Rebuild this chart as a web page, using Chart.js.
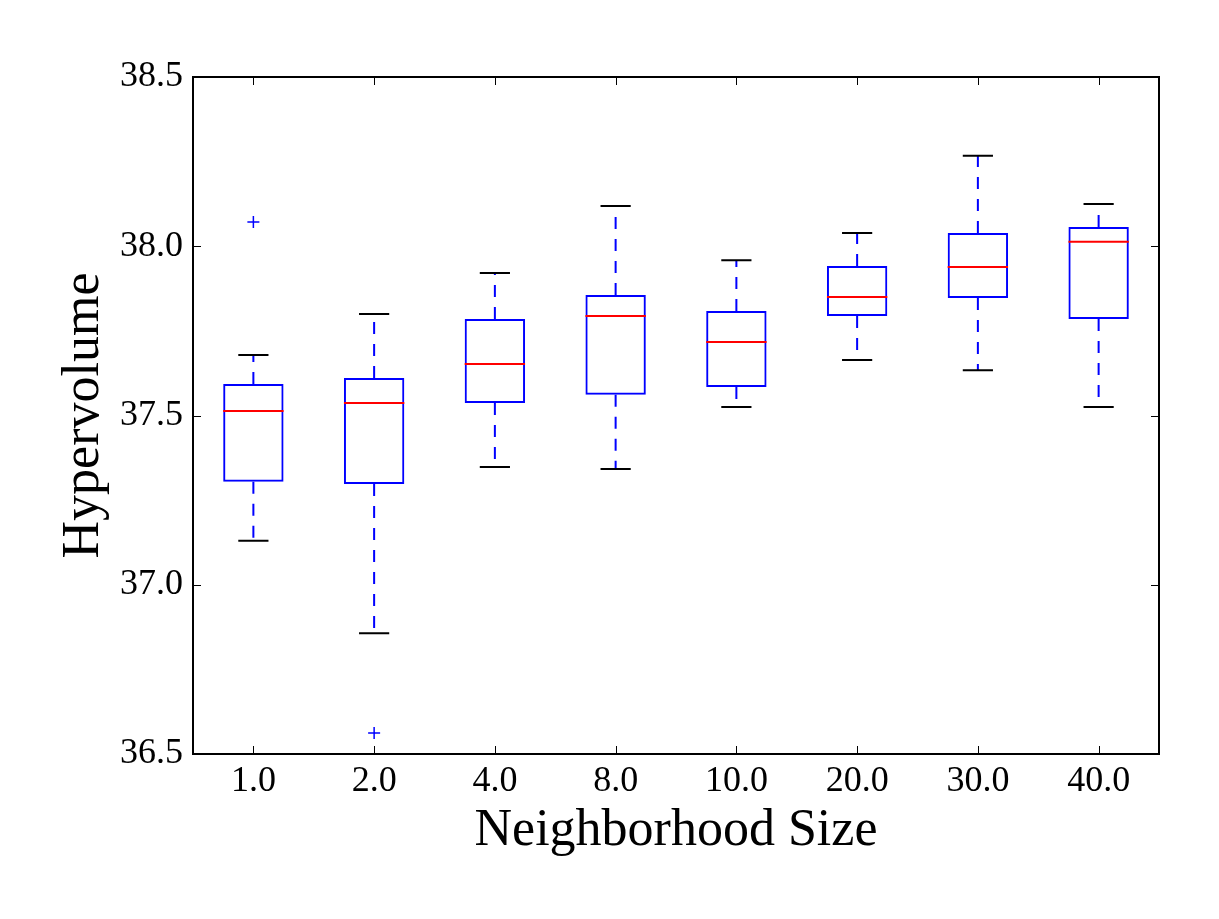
<!DOCTYPE html>
<html>
<head>
<meta charset="utf-8">
<script src="https://cdn.jsdelivr.net/npm/chart.js@4"></script>
<style>
  html, body { margin: 0; padding: 0; background: #fff; }
  #wrap { width: 1219px; height: 919px; }
</style>
</head>
<body>
<div id="wrap"><canvas id="chart"></canvas></div>
<script>
// box plot values
const categories = ['1.0', '2.0', '4.0', '8.0', '10.0', '20.0', '30.0', '40.0'];
const whiskerLow = [37.13, 36.857, 37.348, 37.342, 37.525, 37.664, 37.634, 37.525];
const q1 = [37.304, 37.298, 37.537, 37.561, 37.584, 37.794, 37.847, 37.785];
const median = [37.513, 37.537, 37.652, 37.794, 37.717, 37.85, 37.939, 38.013];
const q3 = [37.593, 37.611, 37.785, 37.856, 37.809, 37.942, 38.039, 38.057];
const whiskerHigh = [37.679, 37.8, 37.921, 38.119, 37.959, 38.039, 38.267, 38.125];
const outliers = [[38.072], [36.562], [], [], [], [], [], []];
const yTicks = [36.5, 37.0, 37.5, 38.0, 38.5];

const serif = "'Liberation Serif', 'DejaVu Serif', serif";

const outlierPoints = [];
outliers.forEach((vals, i) => {
  vals.forEach(v => outlierPoints.push({ x: categories[i], y: v }));
});

// whiskers, caps, medians, frame and inward ticks
const boxPlotExtras = {
  id: 'boxPlotExtras',
  afterDatasetsDraw(chart) {
    const ctx = chart.ctx;
    const x = chart.scales.x;
    const y = chart.scales.y;
    const bars = chart.getDatasetMeta(0).data;
    ctx.save();
    categories.forEach((c, i) => {
      const cx = x.getPixelForValue(i);
      const w = bars[i].width;
      ctx.lineWidth = 2;
      ctx.strokeStyle = '#0000ff';
      ctx.setLineDash([12, 10]);
      ctx.beginPath();
      ctx.moveTo(cx, y.getPixelForValue(q3[i]));
      ctx.lineTo(cx, y.getPixelForValue(whiskerHigh[i]));
      ctx.moveTo(cx, y.getPixelForValue(q1[i]));
      ctx.lineTo(cx, y.getPixelForValue(whiskerLow[i]));
      ctx.stroke();
      ctx.setLineDash([]);
      ctx.strokeStyle = '#000';
      ctx.beginPath();
      [whiskerHigh[i], whiskerLow[i]].forEach(v => {
        const py = y.getPixelForValue(v);
        ctx.moveTo(cx - w / 4, py);
        ctx.lineTo(cx + w / 4, py);
      });
      ctx.stroke();
      ctx.strokeStyle = '#ff0000';
      ctx.beginPath();
      const my = y.getPixelForValue(median[i]);
      ctx.moveTo(cx - w / 2, my);
      ctx.lineTo(cx + w / 2, my);
      ctx.stroke();
    });

    const a = chart.chartArea;
    ctx.strokeStyle = '#000';
    ctx.lineWidth = 1;
    ctx.beginPath();
    categories.forEach((c, i) => {
      const px = Math.round(x.getPixelForValue(i)) + 0.5;
      ctx.moveTo(px, a.bottom);
      ctx.lineTo(px, a.bottom - 8);
      ctx.moveTo(px, a.top);
      ctx.lineTo(px, a.top + 8);
    });
    yTicks.forEach(v => {
      const py = Math.round(y.getPixelForValue(v)) + 0.5;
      ctx.moveTo(a.left, py);
      ctx.lineTo(a.left + 8, py);
      ctx.moveTo(a.right, py);
      ctx.lineTo(a.right - 8, py);
    });
    ctx.stroke();
    ctx.lineWidth = 2;
    ctx.strokeRect(a.left, a.top, a.right - a.left, a.bottom - a.top);
    ctx.restore();
  }
};

new Chart(document.getElementById('chart'), {
  type: 'bar',
  data: {
    labels: categories,
    datasets: [
      {
        label: 'box',
        data: categories.map((c, i) => [q1[i], q3[i]]),
        backgroundColor: 'rgba(0,0,0,0)',
        borderColor: '#0000ff',
        borderWidth: 2,
        borderSkipped: false,
        barPercentage: 0.5,
        categoryPercentage: 1.0
      },
      {
        type: 'line',
        label: 'outliers',
        data: outlierPoints,
        showLine: false,
        pointStyle: 'cross',
        pointRadius: 6,
        borderColor: '#0000ff',
        borderWidth: 1.5
      }
    ]
  },
  options: {
    responsive: true,
    maintainAspectRatio: false,
    animation: false,
    layout: { padding: { top: 77, right: 60, left: 0, bottom: 0 } },
    plugins: {
      legend: { display: false },
      tooltip: { enabled: false }
    },
    scales: {
      x: {
        grid: { display: false, drawTicks: false },
        border: { display: false },
        ticks: { color: '#000', padding: 6, font: { family: serif, size: 36 } },
        title: {
          display: true,
          text: 'Neighborhood Size',
          color: '#000',
          font: { family: serif, size: 52 },
          padding: { top: 0, bottom: 56 }
        },
        afterFit(scale) { scale.height = 165; }
      },
      y: {
        min: 36.5,
        max: 38.5,
        grid: { display: false, drawTicks: false },
        border: { display: false },
        ticks: {
          stepSize: 0.5,
          color: '#000',
          padding: 10,
          font: { family: serif, size: 36 },
          callback: v => Number(v).toFixed(1)
        },
        title: {
          display: true,
          text: 'Hypervolume',
          color: '#000',
          font: { family: serif, size: 52 },
          padding: { top: 53, bottom: 0 }
        },
        afterFit(scale) { scale.width = 193; }
      }
    }
  },
  plugins: [boxPlotExtras]
});
</script>
</body>
</html>
